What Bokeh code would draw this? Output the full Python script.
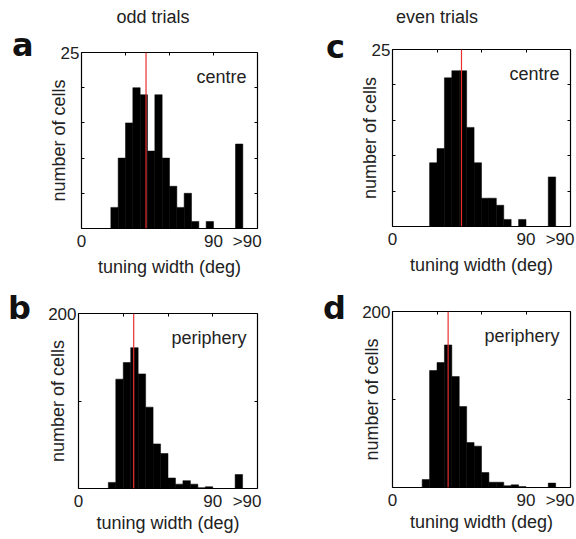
from bokeh.plotting import figure
from bokeh.layouts import column, row
from bokeh.models import FixedTicker, LinearAxis, Span, Label, ColumnDataSource, Div
from bokeh.embed import file_html
from bokeh.resources import INLINE

# ---- data ----
bin_left = [20, 25, 30, 35, 40, 45, 50, 55, 60, 65, 70, 75, 80, 85, 105]
bin_width = 5
odd_centre = [3, 10, 15, 20, 19, 11, 19, 10, 6, 3, 5, 1, 0, 1, 12]
even_centre = [0, 9, 11, 21, 22, 22, 14, 9, 4, 4, 3, 1, 0, 1, 7]
odd_periphery = [7, 125, 144, 161, 131, 93, 51, 40, 12, 5, 9, 5, 1, 2, 16]
even_periphery = [9, 133, 142, 162, 126, 92, 51, 47, 17, 6, 6, 2, 3, 1, 5]
median_odd_centre = 44
median_even_centre = 46.5
median_odd_periphery = 37
median_even_periphery = 37.5

x_ticks = [0, 90, 113]
x_tick_labels = ["0", "90", ">90"]
x_minor_ticks = [30, 60, 90]
centre_yticks = [5, 10, 15, 20, 25]
periphery_yticks = [100, 200]

FONT = "Liberation Sans"
TXT = "#222222"


def panel(counts, median, ymax, yticks, region, geom, yal_standoff, xal_standoff):
    width, height, bl, br, bt, bb = geom
    p = figure(width=width, height=height, x_range=(0, 120), y_range=(0, ymax),
               output_backend="svg", toolbar_location=None,
               min_border_left=bl, min_border_right=br, min_border_top=bt, min_border_bottom=bb)
    p.grid.visible = False
    p.background_fill_color = "white"
    p.border_fill_color = "white"
    p.outline_line_color = "black"
    p.outline_line_width = 1.2
    p.outline_line_alpha = 1.0

    src = ColumnDataSource(dict(left=bin_left,
                                right=[b + bin_width for b in bin_left],
                                top=counts))
    p.quad(left="left", right="right", bottom=0, top="top", source=src,
           fill_color="black", line_color="black", line_width=0.5)
    p.add_layout(Span(location=median, dimension="height", line_color="#e8312f", line_width=1.2))

    xa = p.xaxis[0]
    xa.ticker = FixedTicker(ticks=x_ticks, minor_ticks=[])
    xa.major_label_overrides = {t: l for t, l in zip(x_ticks, x_tick_labels)}
    xa.major_tick_in = 0
    xa.major_tick_out = 0
    xa.minor_tick_in = 0
    xa.minor_tick_out = 0
    xa.axis_line_color = None
    xa.major_label_standoff = 3
    xa.major_label_text_font = FONT
    xa.major_label_text_font_size = "17px"
    xa.major_label_text_color = TXT
    xa.axis_label = "tuning width (deg)"
    xa.axis_label_text_font = FONT
    xa.axis_label_text_font_size = "18px"
    xa.axis_label_text_font_style = "normal"
    xa.axis_label_text_color = TXT
    xa.axis_label_standoff = xal_standoff

    ya = p.yaxis[0]
    ya.ticker = FixedTicker(ticks=yticks, minor_ticks=[])
    ya.major_label_overrides = {t: (str(t) if t == ymax else "") for t in yticks}
    ya.major_tick_in = 3
    ya.major_tick_out = 0
    ya.minor_tick_in = 0
    ya.minor_tick_out = 0
    ya.axis_line_color = None
    ya.major_label_standoff = 2
    ya.major_label_text_font = FONT
    ya.major_label_text_font_size = "17px"
    ya.major_label_text_color = TXT
    ya.major_label_text_baseline = "alphabetic"
    ya.axis_label = "number of cells"
    ya.axis_label_text_font = FONT
    ya.axis_label_text_font_size = "18px"
    ya.axis_label_text_font_style = "normal"
    ya.axis_label_text_color = TXT
    ya.axis_label_standoff = yal_standoff

    top = LinearAxis(ticker=FixedTicker(ticks=x_minor_ticks, minor_ticks=[]),
                     major_label_overrides={t: "" for t in x_minor_ticks},
                     major_label_text_font_size="1px", major_tick_in=3, major_tick_out=0,
                     minor_tick_in=0, minor_tick_out=0, axis_line_color=None,
                     major_label_standoff=0)
    p.add_layout(top, "above")
    right_ticks = [t for t in yticks if t != ymax]
    rt = LinearAxis(ticker=FixedTicker(ticks=right_ticks, minor_ticks=[]),
                    major_label_overrides={t: "" for t in right_ticks},
                    major_label_text_font_size="1px", major_tick_in=3, major_tick_out=0,
                    minor_tick_in=0, minor_tick_out=0, axis_line_color=None,
                    major_label_standoff=0)
    p.add_layout(rt, "right")

    p.add_layout(Label(x=120, y=ymax, x_offset=-11, y_offset=-14, text=region,
                       text_align="right", text_baseline="top",
                       text_font=FONT, text_font_size="18px", text_color=TXT))
    return p


def letter_div(txt, width, height, left, top):
    html = ('<div style="font-family:\'DejaVu Sans\'; font-weight:bold; font-size:32px; '
            'line-height:28px; color:#111111; margin-left:%dpx; padding-top:%dpx;">%s</div>'
            % (left, top, txt))
    return Div(text=html, width=width, height=height, margin=(0, 0, 0, 0))


def title_div(txt, width, height, left, inner_w):
    html = ('<div style="font-family:\'Liberation Sans\', Arial, sans-serif; font-size:18px; '
            'line-height:20px; color:#222222; margin-left:%dpx; width:%dpx; text-align:center; '
            'padding-top:7px;">%s</div>'
            % (left, inner_w, txt))
    return Div(text=html, width=width, height=height, margin=(0, 0, 0, 0))


TITLE_H = 30
pa = panel(odd_centre, median_odd_centre, 25, centre_yticks, "centre",
           (243, 260, 33, 31, 22, 62), -11, 3)
pc = panel(even_centre, median_even_centre, 25, centre_yticks, "centre",
           (228, 260, 44, 6, 19, 64), -11, 3)
pb = panel(odd_periphery, median_odd_periphery, 200, periphery_yticks, "periphery",
           (243, 249, 33, 31, 23, 51), -23, -1)
pd = panel(even_periphery, median_even_periphery, 200, periphery_yticks, "periphery",
           (228, 249, 44, 6, 21, 52), -23, -1)

left_top = column(title_div("odd trials", 288, TITLE_H, 18, 270),
                  row(letter_div("a", 45, 260, 12, 1), pa))
right_top = column(title_div("even trials", 288, TITLE_H, 10, 278),
                   row(letter_div("c", 60, 260, 38, 3), pc))
left_bot = row(letter_div("b", 45, 249, 8, 4), pb)
right_bot = row(letter_div("d", 60, 249, 35, 4), pd)

layout = column(row(left_top, right_top), row(left_bot, right_bot))
open("out.html", "w").write(file_html(layout, INLINE))
